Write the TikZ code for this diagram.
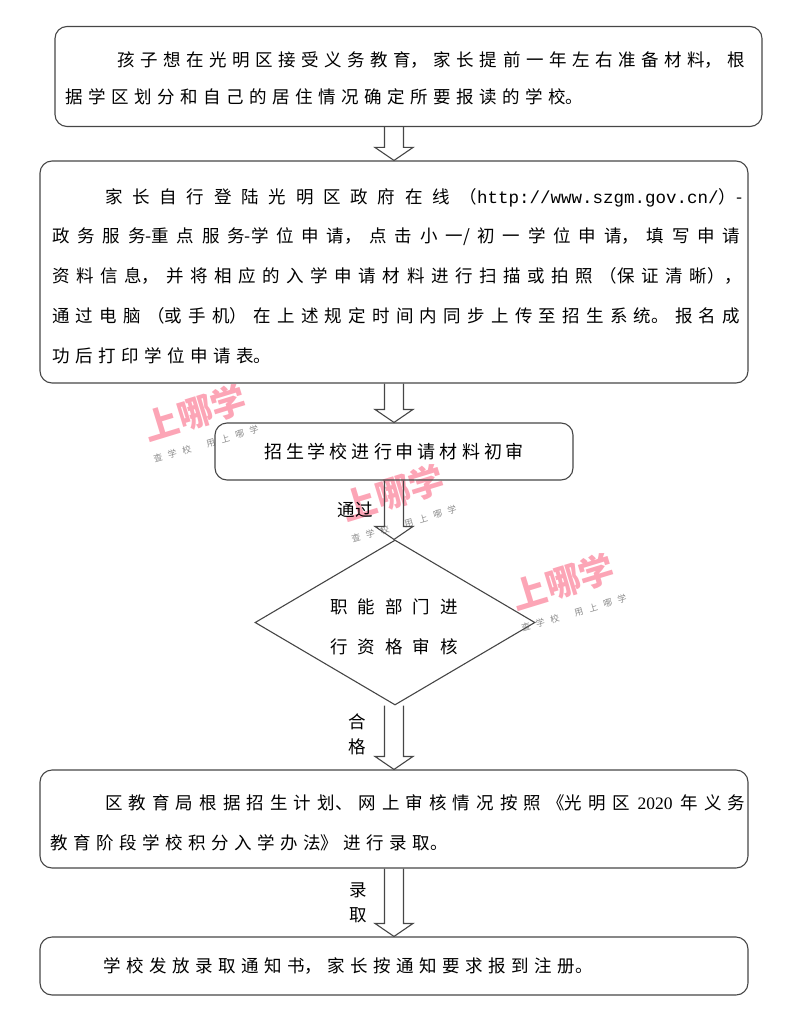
\documentclass[tikz,border=0pt]{standalone}
\usepackage{fontspec}
\setmainfont{Noto Sans CJK SC}
\newfontfamily\monof{Liberation Mono}
\newfontfamily\serf{Liberation Serif}
\usetikzlibrary{shapes.geometric,calc}
\XeTeXlinebreaklocale "zh"
\newdimen\cgap \cgap=5.5pt
\newcommand\jl[2]{\parbox{#1}{\XeTeXlinebreakskip=\cgap plus 1fil minus 3pt\relax\parfillskip=0pt\relax #2}}
\newcommand\rl[1]{\parbox{700pt}{\XeTeXlinebreakskip=\cgap\relax #1}}
\definecolor{wmpink}{RGB}{252,165,182}
\definecolor{linec}{RGB}{70,70,70}
\tikzset{
 box/.style={draw=linec, line width=1.1pt, rounded corners=12pt, inner sep=0pt},
 txt/.style={anchor=west, inner sep=0pt, font=\fontsize{17.5pt}{20pt}\selectfont},
 lbl/.style={inner sep=0pt, align=center, font=\fontsize{17.5pt}{25pt}\selectfont},
 blk/.style={draw=linec, line width=1.1pt},
 wm/.style={text=wmpink, inner sep=0pt, font=\fontsize{35pt}{35pt}\selectfont\bfseries},
 wms/.style={text=black!45, inner sep=0pt, font=\fontsize{9pt}{9pt}\selectfont},
}
\newcommand\barrow[2]{\draw[blk] let \p1=(#1.south), \p2=(#2.north) in
 (384.5pt,\y1) -- (384.5pt,{\y2+13pt}) -- (375pt,{\y2+13pt}) -- (394pt,\y2)
 -- (413pt,{\y2+13pt}) -- (403.5pt,{\y2+13pt}) -- (403.5pt,\y1);}
\newcommand\wmark[3]{%
 \node[wm, rotate=17] (#1) at (#2,#3) {上哪学};
 \node[wms, rotate=16] (#1s) at ($(#2,#3)+(11,31)$) {查\hspace{6pt}学\hspace{6pt}校\hspace{16pt}用\hspace{6pt}上\hspace{6pt}哪\hspace{6pt}学};}
\begin{document}
\begin{tikzpicture}[x=1pt,y=-1pt]
\useasboundingbox (0,0) rectangle (786,1016);
% watermarks
\wmark{wa}{195}{413}
\wmark{wb}{393}{493}
\wmark{wc}{563}{582}
% boxes
\node[box, minimum width=707pt, minimum height=100pt] (b1) at (408.5,76.5) {};
\node[box, minimum width=708pt, minimum height=222pt] (b2) at (394,272) {};
\node[box, minimum width=358pt, minimum height=57pt] (b3) at (394,451.5)
 {\parbox{300pt}{\centering\fontsize{18pt}{20pt}\selectfont\XeTeXlinebreakskip=4pt\relax 招生学校进行申请材料初审}};
\node[diamond, draw=linec, line width=1.1pt, minimum width=280pt, minimum height=165pt, inner sep=0pt, aspect=1.7] (d) at (395,622.5) {};
\node[inner sep=0pt] (dt) at (394,627)
 {\parbox{200pt}{\centering\fontsize{17.5pt}{40pt}\selectfont\XeTeXlinebreakskip=10pt\relax 职能部门进\\行资格审核}};
\node[box, minimum width=708pt, minimum height=98pt] (b4) at (394,819) {};
\node[box, minimum width=708pt, minimum height=58pt] (b5) at (394,966) {};
% text lines
\node[txt] (t11) at (117,60) {\jl{628pt}{孩子想在光明区接受义务教育，家长提前一年左右准备材料，根}};
\node[txt] (t12) at (65,97) {\rl{据学区划分和自己的居住情况确定所要报读的学校。}};
\node[txt] (t21) at (105,198) {\jl{637pt}{家长自行登陆光明区政府在线（\mbox{\monof http://www.szgm.gov.cn/}）-}};
\node[txt] (t22) at (52,237) {\jl{688pt}{政务服务-重点服务-学位申请，点击小一/初一学位申请，填写申请}};
\node[txt] (t23) at (52,276) {\jl{690pt}{资料信息，并将相应的入学申请材料进行扫描或拍照（保证清晰），}};
\node[txt] (t24) at (52,316) {\jl{688pt}{通过电脑（或手机）在上述规定时间内同步上传至招生系统。报名成}};
\node[txt] (t25) at (52,356) {\rl{功后打印学位申请表。}};
\node[txt] (t41) at (105,803) {\jl{640pt}{区教育局根据招生计划、网上审核情况按照《光明区\mbox{\kern8pt\serf 2020\kern8pt}年义务}};
\node[txt] (t42) at (50,843) {\rl{教育阶段学校积分入学办法》进行录取。}};
\node[txt] (t51) at (103,966) {\rl{学校发放录取通知书，家长按通知要求报到注册。}};
% labels
\node[lbl] (lpass) at (355,510) {通过};
\node[lbl] (lok) at (357,734.5) {合\\格};
\node[lbl] (ladm) at (358,902.5) {录\\取};
% arrows
\barrow{b1}{b2}
\barrow{b2}{b3}
\barrow{b3}{d}
\barrow{d}{b4}
\barrow{b4}{b5}
\end{tikzpicture}
\end{document}
